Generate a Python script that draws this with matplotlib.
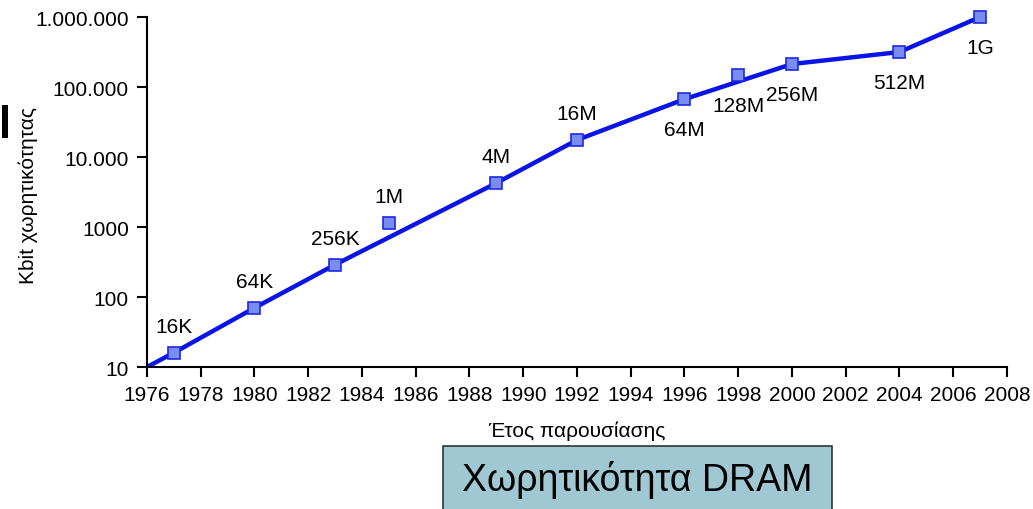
import matplotlib.pyplot as plt
from matplotlib.patches import Rectangle
from matplotlib.ticker import FixedLocator, FixedFormatter, NullLocator

plt.rcParams['font.family'] = ['Liberation Sans', 'DejaVu Sans']

# --- data ---
years = [1977, 1980, 1983, 1985, 1989, 1992, 1996, 1998, 2000, 2004, 2007]
kbit = [16, 70, 290, 1130, 4250, 17500, 67000, 148000, 213000, 316000, 1000000]
chip_labels = ['16K', '64K', '256K', '1M', '4M', '16M', '64M', '128M', '256M', '512M', '1G']
label_above = [True, True, True, True, True, True, False, False, False, False, False]

# trend line (does not pass through 1985 and 1998)
line_years = [1976, 1977, 1980, 1983, 1989, 1992, 1996, 2000, 2004, 2007]
line_kbit = [10, 16, 70, 290, 4250, 17500, 67000, 213000, 316000, 1000000]

ytick_vals = [10, 100, 1000, 10000, 100000, 1000000]
ytick_labels = ['10', '100', '1000', '10.000', '100.000', '1.000.000']
xtick_vals = list(range(1976, 2009, 2))

fig = plt.figure(figsize=(10.33, 5.10), dpi=100)
ax = fig.add_axes([0.1423, 0.2784, 0.8325, 0.6863])

ax.plot(line_years, line_kbit, color='#0a14e6', lw=3.2, zorder=2, solid_capstyle='butt')
ax.plot(years, kbit, ls='none', marker='s', ms=8, mfc='#7a8cf0', mec='#1a2ae6', mew=1.2, zorder=3,
        clip_on=False)

for x, y, t, up in zip(years, kbit, chip_labels, label_above):
    ax.annotate(t, (x, y), xytext=(0, 19 if up else -22), textcoords='offset points',
                ha='center', va='center', fontsize=15)

ax.set_yscale('log')
ax.set_ylim(10, 1000000)
ax.set_xlim(1976, 2008)
ax.yaxis.set_major_locator(FixedLocator(ytick_vals))
ax.yaxis.set_major_formatter(FixedFormatter(ytick_labels))
ax.yaxis.set_minor_locator(NullLocator())
ax.set_xticks(xtick_vals)

for s in ['top', 'right']:
    ax.spines[s].set_visible(False)
for s in ['left', 'bottom']:
    ax.spines[s].set_linewidth(1.5)
ax.tick_params(axis='both', direction='out', length=7, width=1.5, labelsize=15)
ax.tick_params(axis='x', pad=6)
ax.tick_params(axis='y', pad=6)

ax.set_ylabel('Kbit χωρητικότητας', fontsize=15, va='center')
ax.yaxis.set_label_coords(-0.138, 0.494)
ax.set_xlabel('Έτος παρουσίασης', fontsize=15, labelpad=12)

# title box at the bottom
fig.patches.append(Rectangle((443 / 1033, -0.01), (832 - 443) / 1033, (510 - 447) / 510 + 0.01,
                             transform=fig.transFigure, facecolor='#9fc8d2', edgecolor='#333333',
                             lw=1.2, zorder=1))
fig.text((443 + 832) / 2 / 1033, 1 - 480 / 510, 'Χωρητικότητα DRAM', ha='center', va='center',
         fontsize=27)

# small black mark at the left edge
fig.patches.append(Rectangle((2 / 1033, 1 - 139 / 510), 6 / 1033, 33 / 510,
                             transform=fig.transFigure, facecolor='black', edgecolor='none'))

fig.savefig('out.png', dpi=100)
